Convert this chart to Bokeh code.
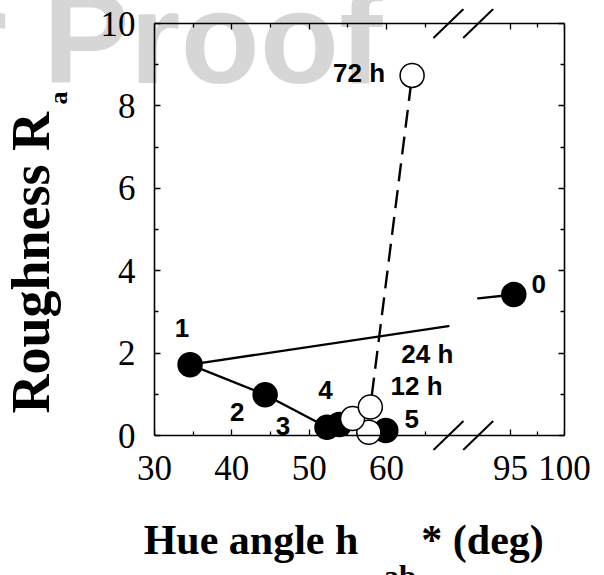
from bokeh.plotting import figure
from bokeh.models import (Range1d, LinearAxis, FixedTicker, CustomJSTickFormatter,
                          ColumnDataSource, Title)
from bokeh.core.properties import value
from bokeh.embed import file_html
from bokeh.resources import INLINE

# ---------------- data ----------------
hue_black = [95.3, 34.6, 44.3, 52.3, 53.9, 59.9]
ra_black = [3.42, 1.72, 0.99, 0.20, 0.27, 0.12]
black_labels = ["0", "1", "2", "3", "4", "5"]

hue_open = [57.7, 55.6, 57.9, 63.3]
ra_open = [0.08, 0.41, 0.69, 8.74]
open_labels = ["", "12 h", "24 h", "72 h"]

x_major_left = [30, 40, 50, 60]
x_minor_left = [35, 45, 55, 65]
x_major_right = [95, 100]
x_minor_right = [97.5]
y_major = [0, 2, 4, 6, 8, 10]
y_minor = [1, 3, 5, 7, 9]

# axis break: left scale shown up to BREAK_LO, right scale from BREAK_HI
BREAK_LO, BREAK_HI = 68, 92
L0, L1 = 30.0, 83.0      # left x scale over the whole frame
R0, R1 = 62.0, 100.0     # right x scale over the whole frame
Y0, Y1 = 0, 10

# ---------------- style ----------------
W, H = 604, 575
PAD = 15                                  # px of frame above/below the plot box
MB_L, MB_R, MB_T, MB_B = 154, 40, 23 - PAD, 140 - PAD
FRAME_W = W - MB_L - MB_R
BOX_H = H - MB_T - MB_B - 2 * PAD
YPAD = PAD * (Y1 - Y0) / BOX_H

black_off = {"0": (25, -11), "1": (-8, -37), "2": (-28, 17), "3": (-44, -1),
             "4": (-14, -34), "5": (26, -12)}
open_off = {"12 h": (64, -33), "24 h": (57, -53), "72 h": (-53, -2)}


def to_left(v):
    return L0 + (v - R0) * (L1 - L0) / (R1 - R0)


p = figure(width=W, height=H, x_range=Range1d(L0, L1),
           y_range=Range1d(Y0 - YPAD, Y1 + YPAD),
           x_axis_type=None, y_axis_type=None, output_backend="svg",
           toolbar_location=None, min_border_left=MB_L, min_border_right=MB_R,
           min_border_top=MB_T, min_border_bottom=MB_B)
p.extra_x_ranges = {"right": Range1d(R0, R1)}
p.outline_line_color = None
p.background_fill_color = "white"
p.border_fill_color = "white"

# ---------------- axes (they form the plot box) ----------------
xt = FixedTicker(ticks=x_major_left + [to_left(v) for v in x_major_right],
                 minor_ticks=x_minor_left + [to_left(v) for v in x_minor_right])
yt = FixedTicker(ticks=y_major, minor_ticks=y_minor)
xfmt = CustomJSTickFormatter(args=dict(L0=L0, L1=L1, R0=R0, R1=R1, BRK=BREAK_LO), code="""
if (tick > BRK) { return String(Math.round(R0 + (tick - L0) * (R1 - R0) / (L1 - L0))); }
return String(Math.round(tick));
""")
blank = CustomJSTickFormatter(code="return '';")


def style_axis(ax, standoff=20, show=True, rule=True):
    ax.axis_line_color = "black" if rule else None
    ax.axis_line_width = 1.6
    ax.major_tick_in = 6
    ax.major_tick_out = 0
    ax.minor_tick_in = 4
    ax.minor_tick_out = 0
    ax.major_tick_line_color = "black" if rule else None
    ax.minor_tick_line_color = "black" if rule else None
    ax.major_tick_line_width = 1.3
    ax.minor_tick_line_width = 1.3
    ax.major_label_text_font = "Liberation Serif"
    ax.major_label_text_font_size = "35px" if show else "0px"
    ax.major_label_text_color = "black"
    ax.major_label_standoff = standoff if show else 0


NB = "\u00a0"
# bottom box edge (line + ticks) and, below it, the tick labels and axis title
bx = LinearAxis(ticker=xt, formatter=blank, fixed_location=Y0)
style_axis(bx, show=False)
p.add_layout(bx, "below")
bl = LinearAxis(ticker=xt, formatter=xfmt,
                axis_label="Hue angle h" + NB * 6 + "* (deg)" + NB * 3)
style_axis(bl, standoff=5, rule=False)
bl.axis_label_standoff = 34
bl.axis_label_text_font = "Liberation Serif"
bl.axis_label_text_font_style = "bold"
bl.axis_label_text_font_size = "42px"
bl.axis_label_text_color = "black"
p.add_layout(bl, "below")
tx = LinearAxis(ticker=xt, formatter=blank, fixed_location=Y1)
style_axis(tx, show=False)
p.add_layout(tx, "above")
ly = LinearAxis(ticker=yt, bounds=(Y0, Y1))
style_axis(ly, standoff=19)
p.add_layout(ly, "left")
ry = LinearAxis(ticker=yt, formatter=blank, bounds=(Y0, Y1))
style_axis(ry, show=False)
p.add_layout(ry, "right")

# ---------------- subscripts and y title (side panels) ----------------
ttl = dict(text_font="Liberation Serif", text_font_style="bold", text_color="black",
           align="left", vertical_align="bottom")
p.add_layout(Title(text="ab", text_font_size="31px", offset=229, standoff=-57, **ttl), "below")
p.add_layout(Title(text="a", text_font_size="26px", offset=346, standoff=49, **ttl), "left")
p.add_layout(Title(text="Roughness R", text_font_size="54px", offset=37, standoff=-87, **ttl),
             "left")

# watermark
p.add_layout(Title(text="Author Proof", text_font="Liberation Sans", text_font_style="bold",
                   text_font_size="130px", text_color="black", text_alpha=0.16,
                   align="right", vertical_align="bottom", offset=182, standoff=-205), "above")

# ---------------- lines ----------------
def side(x):
    return "left" if x <= BREAK_LO else "right"


def cut_y(xa, ya, xb, yb, xc):
    return ya + (xc - xa) * (yb - ya) / (xb - xa)


seg = {"left": dict(x0=[], y0=[], x1=[], y1=[]), "right": dict(x0=[], y0=[], x1=[], y1=[])}
for i in range(len(hue_black) - 1):
    xa, ya, xb, yb = hue_black[i], ra_black[i], hue_black[i + 1], ra_black[i + 1]
    sa, sb = side(xa), side(xb)
    if sa == sb:
        for k, v in zip(("x0", "y0", "x1", "y1"), (xa, ya, xb, yb)):
            seg[sa][k].append(v)
    else:
        (lx, ly_), (rx, ry_) = ((xa, ya), (xb, yb)) if sa == "left" else ((xb, yb), (xa, ya))
        for k, v in zip(("x0", "y0", "x1", "y1"),
                        (lx, ly_, BREAK_LO, cut_y(lx, ly_, rx, ry_, BREAK_LO))):
            seg["left"][k].append(v)
        for k, v in zip(("x0", "y0", "x1", "y1"),
                        (BREAK_HI, cut_y(lx, ly_, rx, ry_, BREAK_HI), rx, ry_)):
            seg["right"][k].append(v)

p.segment(source=ColumnDataSource(seg["left"]), x0="x0", y0="y0", x1="x1", y1="y1",
          line_color="black", line_width=2.4, line_cap="round")
p.segment(source=ColumnDataSource(seg["right"]), x0="x0", y0="y0", x1="x1", y1="y1",
          line_color="black", line_width=2.4, line_cap="round", x_range_name="right")

p.line(hue_open, ra_open, line_color="black", line_width=2.4, line_dash="18 9")

# ---------------- break marks ----------------
HX, HY = 15, 14.5   # half size of a slash, px
bm = {"default": dict(x0=[], y0=[], x1=[], y1=[]), "right": dict(x0=[], y0=[], x1=[], y1=[])}
for xc, rng, (a, b) in ((BREAK_LO, "default", (L0, L1)), (BREAK_HI, "right", (R0, R1))):
    dxu = HX * (b - a) / FRAME_W
    dyu = HY * (Y1 - Y0) / BOX_H
    for yc in (Y0, Y1):
        for k, v in zip(("x0", "y0", "x1", "y1"), (xc - dxu, yc - dyu, xc + dxu, yc + dyu)):
            bm[rng][k].append(v)
for rng in ("default", "right"):
    p.segment(source=ColumnDataSource(bm[rng]), x0="x0", y0="y0", x1="x1", y1="y1",
              line_color="black", line_width=2, x_range_name=rng)

# ---------------- markers ----------------
for s in ("left", "right"):
    idx = [i for i, x in enumerate(hue_black) if side(x) == s]
    kw = {} if s == "left" else {"x_range_name": "right"}
    src = ColumnDataSource(dict(
        x=[hue_black[i] for i in idx], y=[ra_black[i] for i in idx],
        t=[black_labels[i] for i in idx],
        dx=[black_off[black_labels[i]][0] for i in idx],
        dy=[black_off[black_labels[i]][1] for i in idx]))
    p.scatter("x", "y", source=src, marker="circle", size=24, fill_color="black",
              line_color="black", line_width=1.5, **kw)
    p.text("x", "y", text="t", source=src, x_offset="dx", y_offset="dy",
           text_font=value("Liberation Sans"), text_font_style="bold",
           text_font_size="26px", text_align="center", text_baseline="middle",
           text_color="black", **kw)

p.scatter(hue_open, ra_open, marker="circle", size=24, fill_color="white",
          line_color="black", line_width=1.5)
oi = [i for i, t in enumerate(open_labels) if t]
osrc = ColumnDataSource(dict(
    x=[hue_open[i] for i in oi], y=[ra_open[i] for i in oi], t=[open_labels[i] for i in oi],
    dx=[open_off[open_labels[i]][0] for i in oi], dy=[open_off[open_labels[i]][1] for i in oi]))
p.text("x", "y", text="t", source=osrc, x_offset="dx", y_offset="dy",
       text_font=value("Liberation Sans"), text_font_style="bold",
       text_font_size="26px", text_align="center", text_baseline="middle", text_color="black")

open("out.html", "w").write(file_html(p, INLINE))
